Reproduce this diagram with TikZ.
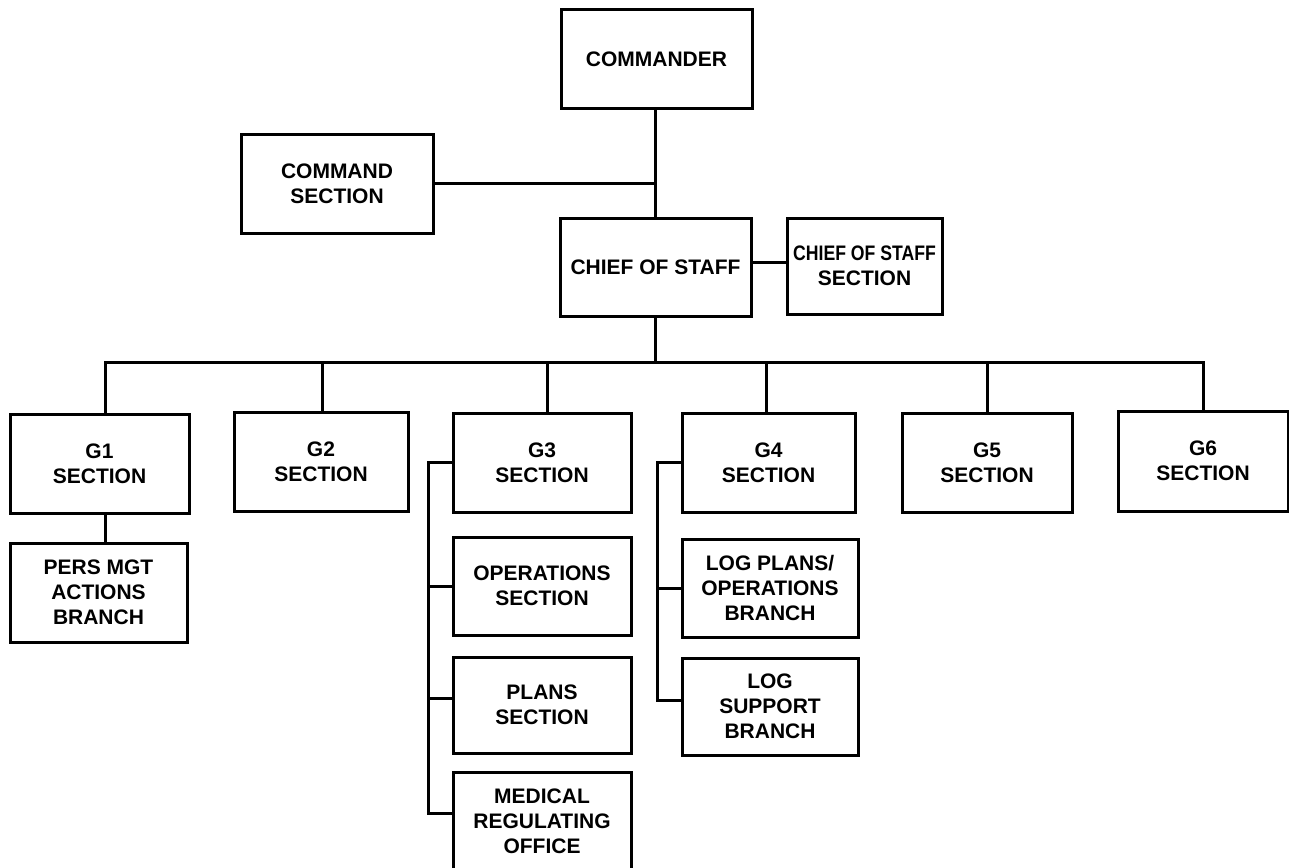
\documentclass[tikz,border=0pt]{standalone}
\usepackage{fontspec}
\setmainfont{Liberation Sans}
\begin{document}
\begin{tikzpicture}[x=1pt,y=-1pt,
  unit/.style={draw=black, line width=3pt, fill=white, inner sep=0pt,
    align=center, font=\bfseries\fontsize{21}{25}\selectfont,
    minimum width=#1},
  unit/.default=178pt,
  link/.style={draw=black, line width=3pt, line cap=rect}]
\useasboundingbox (0,0) rectangle (1289,867);

% command group
\node[unit=191pt, minimum height=98pt]  (cmd)    at (656.5,59)   {COMMANDER};
\node[unit=192pt, minimum height=99pt]  (cmdsec) at (337,183.5)  {COMMAND\\SECTION};
\node[unit=191pt, minimum height=98pt]  (cos)    at (655.5,267)  {CHIEF OF STAFF};
\node[unit=155pt, minimum height=96pt]  (cossec) at (864.5,266)  {\scalebox{0.84}[1]{CHIEF OF STAFF}\\SECTION};

% staff sections
\node[unit=179pt, minimum height=99pt]  (g1)     at (99.5,463.5) {G1\\SECTION};
\node[unit=177pt, minimum height=99pt]  (pers)   at (98.5,592.5) {PERS MGT\\ACTIONS\\BRANCH};
\node[unit=174pt, minimum height=99pt]  (g2)     at (321,461.5)  {G2\\SECTION};
\node[unit=178pt, minimum height=99pt]  (g3)     at (542,462.5)  {G3\\SECTION};
\node[unit=178pt, minimum height=98pt]  (ops)    at (542,586)    {OPERATIONS\\SECTION};
\node[unit=178pt, minimum height=96pt]  (plans)  at (542,705)    {PLANS\\SECTION};
\node[unit=178pt, minimum height=98pt]  (med)    at (542,821)    {MEDICAL\\REGULATING\\OFFICE};
\node[unit=173pt, minimum height=99pt]  (g4)     at (768.5,462.5){G4\\SECTION};
\node[unit=176pt, minimum height=98pt]  (logpl)  at (770,588)    {LOG PLANS/\\OPERATIONS\\BRANCH};
\node[unit=176pt, minimum height=97pt]  (logsp)  at (770,706.5)  {LOG\\SUPPORT\\BRANCH};
\node[unit=170pt, minimum height=99pt]  (g5)     at (987,462.5)  {G5\\SECTION};
\node[unit=170pt, minimum height=100pt] (g6)     at (1203,461)   {G6\\SECTION};

% guide coordinates for the connector runs
\coordinate (spine) at (655,0);
\coordinate (coslink) at (0,262);
\coordinate (bus) at (0,362);
\coordinate (d1) at (105,362);
\coordinate (d2) at (322,362);
\coordinate (d3) at (547,362);
\coordinate (d4) at (766,362);
\coordinate (d5) at (987,362);
\coordinate (d6) at (1203,362);
\coordinate (b3) at (428,0);
\coordinate (b4) at (657,0);
\coordinate (plantap) at (0,698);
\coordinate (medtap) at (0,813);
\coordinate (logsptap) at (0,700);

% command connectors
\draw[link] (cmd.south -| spine) -- (cos.north -| spine);
\draw[link] (cmdsec.east) -- (cmdsec.east -| spine);
\draw[link] (cos.east |- coslink) -- (cossec.west |- coslink);
\draw[link] (cos.south -| spine) -- (spine |- bus);

% staff bus and drops
\draw[link] (d1) -- (d6);
\draw[link] (d1) -- (d1 |- g1.north);
\draw[link] (d2) -- (d2 |- g2.north);
\draw[link] (d3) -- (d3 |- g3.north);
\draw[link] (d4) -- (d4 |- g4.north);
\draw[link] (d5) -- (d5 |- g5.north);
\draw[link] (d6) -- (d6 |- g6.north);
\draw[link] (g1.south -| d1) -- (pers.north -| d1);

% G3 bracket
\draw[link] (g3.west) -- (b3 |- g3.west) -- (b3 |- medtap) -- (med.west |- medtap);
\draw[link] (b3 |- ops.west) -- (ops.west);
\draw[link] (b3 |- plantap) -- (plans.west |- plantap);

% G4 bracket
\draw[link] (g4.west) -- (b4 |- g4.west) -- (b4 |- logsptap) -- (logsp.west |- logsptap);
\draw[link] (b4 |- logpl.west) -- (logpl.west);
\end{tikzpicture}
\end{document}
